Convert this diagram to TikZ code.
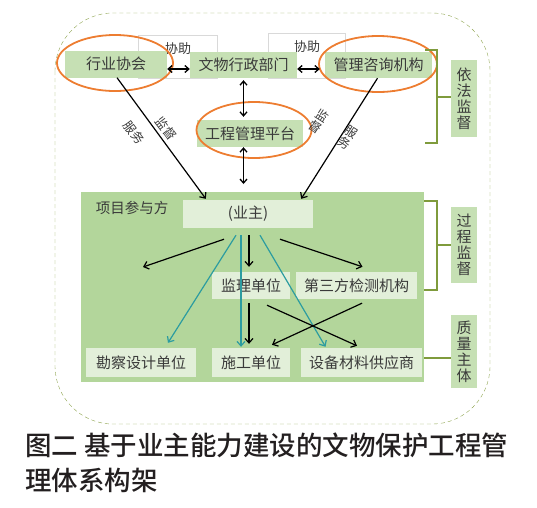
\documentclass[tikz,border=0pt]{standalone}
\usepackage{fontspec}
\newfontfamily\cjk{Noto Sans CJK SC}
\newfontfamily\cjkmed{Noto Sans CJK SC Medium}
\usetikzlibrary{arrows.meta, positioning, shapes.geometric, calc}
\definecolor{topgreen}{HTML}{C6E0B4}
\definecolor{zonegreen}{HTML}{B3D69B}
\definecolor{palegreen}{HTML}{E2EFD9}
\definecolor{ringorange}{HTML}{ED7D31}
\definecolor{linkteal}{HTML}{2C9CA0}
\definecolor{olivegreen}{HTML}{7F9B3C}
\definecolor{dashgreen}{HTML}{8FA450}
\definecolor{inkgray}{HTML}{3A3A3A}
\definecolor{captionink}{HTML}{231F20}

\tikzset{
  topbox/.style={fill=topgreen, minimum height=27pt, inner sep=0pt, text=inkgray},
  innerbox/.style={fill=palegreen, minimum height=28pt, inner sep=0pt, text=inkgray},
  sidebox/.style={fill=topgreen, minimum width=26pt, inner sep=0pt, align=center,
    text=inkgray, font=\cjk\fontsize{15}{16}\selectfont},
  ring/.style={ellipse, draw=ringorange, line width=1.8pt, inner sep=0pt},
  twoway/.style={{Straight Barb[length=4pt,width=7pt]}-{Straight Barb[length=4pt,width=7pt]}, line width=1.3pt},
  oneway/.style={-{Straight Barb[length=4.5pt,width=8pt]}, line width=1.2pt},
  tealway/.style={oneway, draw=linkteal},
  bracket/.style={draw=olivegreen, line width=1.2pt},
  helptag/.style={text=inkgray, font=\cjk\fontsize{13}{14}\selectfont, inner sep=0pt},
  slanttag/.style={text=inkgray, font=\cjk\fontsize{12.5}{13}\selectfont, inner sep=0pt, align=center},
  captext/.style={anchor=west, inner sep=0pt, text=captionink, font=\cjkmed\fontsize{26.5}{34}\selectfont},
}

\begin{document}
\begin{tikzpicture}[x=1pt, y=-1pt, font=\cjk\fontsize{15}{16}\selectfont]
  \useasboundingbox (0,0) rectangle (537,507);
  \draw[dashgreen, dash pattern=on 4pt off 3pt, rounded corners=58pt] (55,13) rectangle (490,424);

  % faint boxes behind the 协助 labels
  \draw[black!15, line width=0.5pt] (138,35) rectangle (217,78);
  \draw[black!15, line width=0.5pt] (268,33) rectangle (345,78);
  \node[helptag] (help1) at (178,49) {协助};
  \node[helptag] (help2) at (307,47) {协助};

  \node[topbox, minimum width=102pt] (hy) at (116,64) {行业协会};
  \node[topbox, minimum width=107pt, minimum height=26pt] (wx) at (243.5,65) {文物行政部门};
  \node[topbox, minimum width=107pt, minimum height=26pt] (gl) at (378.5,65) {管理咨询机构};
  \node[topbox, minimum width=106pt] (gc) at (250,133.5) {工程管理平台};

  \node[ring, minimum width=116pt, minimum height=56pt] (ring1) at (115,63) {};
  \node[ring, minimum width=118pt, minimum height=56pt] (ring2) at (378,64) {};
  \node[ring, minimum width=115pt, minimum height=56pt] (ring3) at (254,130) {};

  \node[fill=zonegreen, minimum width=343pt, minimum height=190pt, inner sep=0pt] (zone) at (252.5,287) {};
  \node[text=inkgray, font=\cjk\fontsize{14.5}{16}\selectfont] (xmcy) at (132,208) {项目参与方};
  \node[innerbox, minimum width=130pt] (yz) at (248,214) {(业主)};
  \node[innerbox, minimum width=78pt, minimum height=27pt] (jl) at (251,285.5) {监理单位};
  \node[innerbox, minimum width=121pt, minimum height=27pt] (dsf) at (356.5,285.5) {第三方检测机构};
  \node[innerbox, minimum width=110pt, minimum height=29pt] (kc) at (141,362.5) {勘察设计单位};
  \node[innerbox, minimum width=78pt, minimum height=29pt] (sg) at (251,362.5) {施工单位};
  \node[innerbox, minimum width=121pt, minimum height=29pt] (sb) at (361.5,362.5) {设备材料供应商};

  \node[sidebox, minimum height=77pt] (yf) at (464,98.5) {依\\法\\监\\督};
  \node[sidebox, minimum height=76pt] (gcjd) at (464,245) {过\\程\\监\\督};
  \node[sidebox, minimum height=73pt] (zl) at (464,351.5) {质\\量\\主\\体};

  \draw[bracket] (425,50) -- (437,50) -- (437,143) -- (425,143);
  \draw[bracket] (437,97) -- (yf.west |- 0,97);
  \draw[bracket] (zone.east |- 0,201) -- (437,201) -- (437,290) -- (zone.east |- 0,290);
  \draw[bracket] (437,245) -- (gcjd.west |- 0,245);
  \draw[bracket] (zone.east |- 0,358) -- (zl.west |- 0,358);

  % upper level
  \draw[twoway] (hy.east |- 0,69) -- (wx.west |- 0,69);
  \draw[twoway] (wx.east |- 0,69) -- ([xshift=-5pt]gl.west |- 0,69);
  \draw[twoway, shorten <=2pt, shorten >=3pt] (wx.south) -- (wx.south |- gc.north);
  \coordinate (ptop) at (243.5,184);
  \draw[twoway] (gc.south -| wx.south) -- (ptop);
  \draw[oneway] ([xshift=1pt]hy.south) -- ($(yz.north west)+(23,-1)$);
  \draw[oneway] ([xshift=-1pt]gl.south) -- ($(yz.north east)+(-12,-1)$);

  \node[slanttag, rotate=-53] (fw1) at (134,133) {服务};
  \node[slanttag, rotate=-53] (jd1) at (166,129) {监督};
  \node[slanttag, rotate=-33] (jd2) at (319,121) {监\\督};
  \node[slanttag, rotate=-33] (fw2) at (348,138) {服\\务};

  % project parties
  \coordinate (lfree) at (143,267);
  \draw[oneway] ($(yz.south)+(-24,11)$) -- (lfree);
  \draw[oneway] ($(yz.south)+(1,7)$) -- ($(jl.north)+(-2,-5)$);
  \draw[oneway] ($(yz.south)+(32,11)$) -- ($(dsf.north)+(6,-5)$);
  \draw[tealway] ($(yz.south)+(-12,7)$) -- ($(kc.north)+(27,-5)$);
  \draw[tealway] ($(yz.south)+(-7,7)$) -- ($(sg.north)+(-10,-1)$);
  \draw[tealway] ($(yz.south)+(12,7)$) -- ($(sb.north)+(-36,-1)$);
  \draw[oneway] ($(jl.south)+(-2,4)$) -- ($(sg.north)+(-2,-4)$);
  \draw[oneway] ($(jl.south)+(16,6)$) -- ($(sb.north)+(-4.5,-2)$);
  \draw[oneway] ($(dsf.south)+(5.5,4)$) -- ($(sg.north)+(21,-3)$);

  \node[captext] (cap1) at (25,445) {图二 基于业主能力建设的文物保护工程管};
  \node[captext] (cap2) at (25,480) {理体系构架};
\end{tikzpicture}
\end{document}
